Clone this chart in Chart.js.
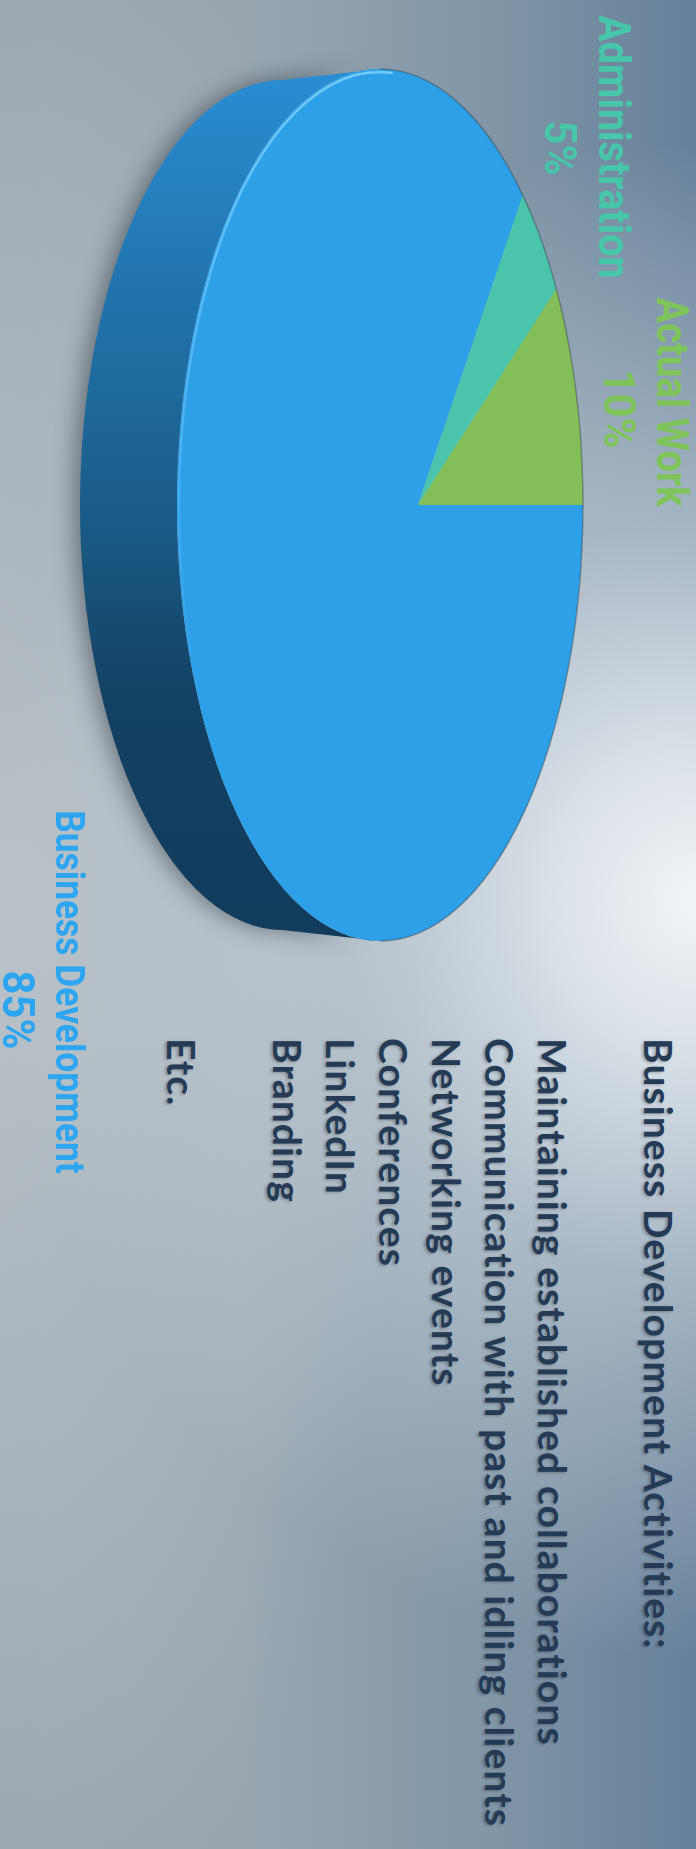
<!DOCTYPE html>
<html>
<head>
<meta charset="utf-8">
<script src="https://cdn.jsdelivr.net/npm/chart.js@4.4.1/dist/chart.umd.min.js"></script>
<style>
  html, body { margin:0; padding:0; width:696px; height:1849px; overflow:hidden; background:#9aa5ae; }
  #slide {
    position:absolute; left:0; top:0; width:1849px; height:696px;
    transform-origin:0 0; transform: translate(696px,0) rotate(90deg);
    overflow:hidden;
    background:
      radial-gradient(ellipse 760px 700px at 900px 0px, rgba(241,245,248,1) 0%, rgba(226,232,237,0.9) 22%, rgba(205,214,221,0.6) 50%, rgba(195,205,212,0) 100%),
      radial-gradient(ellipse 1100px 420px at 920px 700px, rgba(190,198,204,0.9) 0%, rgba(180,189,196,0) 100%),
      linear-gradient(to bottom, #66809a 0%, #8196a7 30%, #99a6b0 65%, #98a3ac 100%);
  }
  #chartWrap { position:absolute; left:0; top:0; width:1010px; height:696px; }
  .lbl { position:absolute; width:600px; text-align:center; font-family:Roboto, sans-serif; font-weight:700; white-space:nowrap; transform-origin:50% 50%; }
  #list { position:absolute; left:1038px; top:11px; font-family:Lato, sans-serif; font-weight:700; font-size:39px; line-height:53px; letter-spacing:1.1px; color:#243a55; white-space:nowrap; text-shadow: 1px 2px 3px rgba(0,0,0,0.28); }
</style>
</head>
<body>
<div id="slide">
  <div id="chartWrap"><canvas id="c" width="1010" height="696"></canvas></div>
  <div id="labels"></div>
  <div id="list"></div>
</div>
<script>
// ---- data ----
const categories = ['Business Development', 'Administration', 'Actual Work'];
const values = [85, 5, 10];
const faceColors = ['#2ea0e8', '#4ac5ab', '#84be58'];
const labelColors = ['#2ea5f0', '#48c6aa', '#7fc45a'];
const listTitle = 'Business Development Activities:';
const listItems = ['Maintaining established collaborations', 'Communication with past and idling clients', 'Networking events', 'Conferences', 'LinkedIn', 'Branding'];
const listTail = 'Etc.';

// ---- 3D look parameters (style only) ----
const SQUASH = 0.4656;      // vertical tilt of the pie
const DEPTH = 97;           // visible thickness (px)
const FACE_RX = 0.8226;     // visible face outline, relative to pie radius (perspective)
const FACE_RY = 0.383;
const FACE_DY = 0.0717;     // outline centre sits below the apex (perspective)

function tilt(ctx, x, y) { ctx.translate(x, y); ctx.scale(1, SQUASH); ctx.translate(-x, -y); }
function face(p) {
  return { cx: p.x, cy: p.y + p.outerRadius * FACE_DY, rx: p.outerRadius * FACE_RX, ry: p.outerRadius * FACE_RY };
}

const tiltPlugin = {
  id: 'tilt',
  beforeDatasetsDraw(chart) {
    const ctx = chart.ctx;
    const meta = chart.getDatasetMeta(0);
    const p0 = meta.data[0].getProps(['x', 'y', 'outerRadius'], true);
    const f = face(p0);
    // side walls: the front half of the rim, coloured by the arc that owns it
    meta.data.forEach((arc) => {
      const p = arc.getProps(['startAngle', 'endAngle'], true);
      const TWO = Math.PI * 2;
      for (let k = -1; k <= 1; k++) {
        const s = Math.max(p.startAngle + k * TWO, 0), e = Math.min(p.endAngle + k * TWO, Math.PI);
        if (e <= s) continue;
        ctx.save();
        const g = ctx.createLinearGradient(f.cx - f.rx, 0, f.cx + f.rx, 0);
        const base = arc.options.backgroundColor;
        if (base === faceColors[0]) {
          g.addColorStop(0, '#2a8dd3');
          g.addColorStop(0.25, '#2274ad');
          g.addColorStop(0.5, '#1b5d8a');
          g.addColorStop(0.72, '#134163');
          g.addColorStop(1, '#123b5b');
        } else { g.addColorStop(0, base); g.addColorStop(1, '#333'); }
        ctx.beginPath();
        ctx.ellipse(f.cx, f.cy, f.rx, f.ry, 0, s, e);
        ctx.ellipse(f.cx, f.cy + DEPTH, f.rx * 0.975, f.ry, 0, e, s, true);
        ctx.closePath();
        ctx.shadowColor = 'rgba(20,30,40,0.45)';
        ctx.shadowBlur = 22;
        ctx.shadowOffsetY = 6;
        ctx.fillStyle = g;
        ctx.fill();
        ctx.restore();
      }
    });
    // clip the top face to the perspective outline, then tilt the pie
    ctx.save();
    ctx.beginPath();
    ctx.ellipse(f.cx, f.cy, f.rx, f.ry, 0, 0, Math.PI * 2);
    ctx.clip();
    tilt(ctx, p0.x, p0.y);
  },
  afterDatasetsDraw(chart) {
    const ctx = chart.ctx;
    ctx.restore();
    const meta = chart.getDatasetMeta(0);
    const f = face(meta.data[0].getProps(['x', 'y', 'outerRadius'], true));
    ctx.save();
    const g = ctx.createLinearGradient(f.cx - f.rx, 0, f.cx + f.rx * 0.4, 0);
    g.addColorStop(0, 'rgba(120,205,255,0.95)');
    g.addColorStop(0.5, 'rgba(100,195,255,0.6)');
    g.addColorStop(1, 'rgba(100,195,255,0)');
    ctx.beginPath();
    ctx.ellipse(f.cx, f.cy, f.rx - 3, f.ry - 2, 0, Math.PI * 0.2, Math.PI * 1.02);
    ctx.strokeStyle = g;
    ctx.lineWidth = 2.5;
    ctx.stroke();
    ctx.beginPath();
    ctx.ellipse(f.cx, f.cy, f.rx, f.ry, 0, Math.PI, Math.PI * 2);
    ctx.strokeStyle = 'rgba(60,70,80,0.45)';
    ctx.lineWidth = 1.6;
    ctx.stroke();
    ctx.restore();
  }
};

new Chart(document.getElementById('c'), {
  type: 'pie',
  data: {
    labels: categories,
    datasets: [{ data: values, backgroundColor: faceColors, borderWidth: 0, clip: false, radius: 530 }]
  },
  options: {
    responsive: false,
    animation: false,
    events: [],
    layout: { padding: { bottom: 140 } },
    plugins: { legend: { display: false }, tooltip: { enabled: false } }
  },
  plugins: [tiltPlugin]
});

// ---- data labels (HTML text): name line and percent line ----
const labelSpec = [ // [name centre x, name baseline, name size, name x-scale, pct centre x, pct baseline, pct size]
  [992, 641, 40, 0.885, 1010, 693, 44],
  [147, 97, 44, 0.9, 148, 151, 44],
  [402, 39, 44, 0.87, 409, 92, 44]
];
const lw = document.getElementById('labels');
function addLine(text, cx, base, fs, sx, color) {
  const d = document.createElement('div');
  d.className = 'lbl';
  d.style.left = (cx - 300) + 'px';
  d.style.top = (base - 0.842 * fs) + 'px';
  d.style.fontSize = fs + 'px';
  d.style.lineHeight = fs + 'px';
  d.style.color = color;
  d.style.transform = 'scaleX(' + sx + ')';
  d.textContent = text;
  lw.appendChild(d);
}
categories.forEach((c, i) => {
  const s = labelSpec[i];
  addLine(c, s[0], s[1], s[2], s[3], labelColors[i]);
  addLine(values[i] + '%', s[4], s[5], s[6], 0.95, labelColors[i]);
});

// ---- list ----
document.getElementById('list').innerHTML =
  listTitle + '<br>&nbsp;<br>' + listItems.join('<br>') + '<br>&nbsp;<br>' + listTail;
</script>
</body>
</html>
